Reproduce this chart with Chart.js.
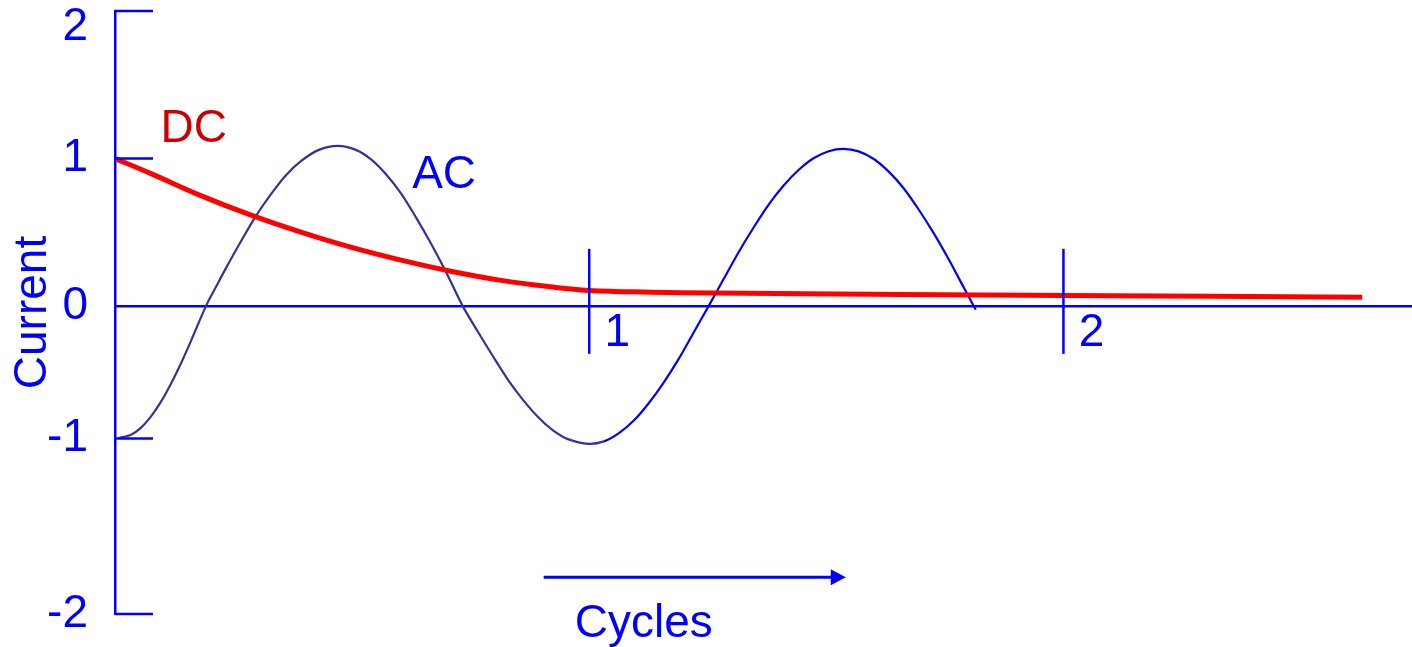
<!DOCTYPE html>
<html>
<head>
<meta charset="utf-8">
<script src="https://cdn.jsdelivr.net/npm/chart.js@4.4.1/dist/chart.umd.min.js"></script>
<style>
  body { margin: 0; background: #fff; }
  #wrap { width: 1412px; height: 647px; }
</style>
</head>
<body>
<div id="wrap"><canvas id="chart"></canvas></div>
<script>
// values (x in cycles, y in current)
var dcCycles  = [0, 0.076, 0.181, 0.287, 0.392, 0.497, 0.603, 0.708, 0.814, 0.919, 0.999,
                 1.130, 1.262, 1.657, 2.000, 2.630];
var dcCurrent = [1.00, 0.897, 0.748, 0.615, 0.500, 0.398, 0.310, 0.235, 0.173, 0.129, 0.105,
                 0.093, 0.087, 0.077, 0.070, 0.059];

var acCycles  = [0.008, 0.034, 0.055, 0.076, 0.097, 0.118, 0.139, 0.160, 0.192, 0.213, 0.234, 0.266,
                 0.297, 0.329, 0.360, 0.392, 0.430, 0.470, 0.508, 0.540, 0.571, 0.603, 0.634, 0.666,
                 0.698, 0.733, 0.765, 0.797, 0.828, 0.860, 0.892, 0.923, 0.955, 0.999, 1.031, 1.062,
                 1.094, 1.125, 1.157, 1.189, 1.220, 1.252, 1.284, 1.315, 1.347, 1.378, 1.410, 1.442,
                 1.473, 1.505, 1.536, 1.568, 1.600, 1.631, 1.663, 1.694, 1.726, 1.758, 1.789, 1.815];
var acCurrent = [-0.896, -0.874, -0.826, -0.750, -0.650, -0.528, -0.391, -0.239, 0, 0.129, 0.256, 0.440,
                 0.609, 0.758, 0.885, 0.982, 1.058, 1.085, 1.058, 0.993, 0.894, 0.763, 0.604, 0.425,
                 0.230, 0, -0.174, -0.342, -0.498, -0.636, -0.754, -0.843, -0.904, -0.936, -0.919, -0.865,
                 -0.778, -0.662, -0.520, -0.358, -0.182, 0, 0.185, 0.364, 0.533, 0.685, 0.816, 0.923,
                 1.001, 1.049, 1.065, 1.048, 0.996, 0.912, 0.798, 0.657, 0.495, 0.316, 0.129, -0.026];

// tick marks sit where the drawing puts them
var yTickValues = [2, 1, 0, -0.9, -2.09];
var yTickLabels = ['2', '1', '0', '-1', '-2'];
var xTickValues = [1, 2];
var xTickLabels = ['1', '2'];

var BLUE = '#0000ff';
var FONT = "'Liberation Sans', Arial, sans-serif";

function toPoints(xs, ys) {
    return xs.map(function (x, i) { return {x: x, y: ys[i]}; });
}

var extras = {
    id: 'extras',
    afterDraw: function (chart) {
        var ctx = chart.ctx;
        var xs = chart.scales.x, ys = chart.scales.y;
        var x0 = xs.getPixelForValue(0), y0 = ys.getPixelForValue(0);
        ctx.save();
        ctx.strokeStyle = BLUE;
        ctx.fillStyle = BLUE;
        ctx.lineWidth = 2.5;

        // short ticks to the right of the current axis
        yTickValues.forEach(function (v) {
            if (v === 0) return;
            var y = ys.getPixelForValue(v);
            ctx.beginPath();
            ctx.moveTo(x0, y);
            ctx.lineTo(x0 + 38, y);
            ctx.stroke();
        });
        // cycle ticks crossing the zero line
        xTickValues.forEach(function (v) {
            var x = xs.getPixelForValue(v);
            ctx.beginPath();
            ctx.moveTo(x, y0 - 57);
            ctx.lineTo(x, y0 + 48);
            ctx.stroke();
        });

        // arrow + "Cycles"
        var ay = ys.getPixelForValue(-1.84);
        var ax1 = xs.getPixelForValue(0.904), ax2 = xs.getPixelForValue(1.541);
        ctx.lineWidth = 3;
        ctx.beginPath();
        ctx.moveTo(ax1, ay);
        ctx.lineTo(ax2 - 14, ay);
        ctx.stroke();
        ctx.beginPath();
        ctx.moveTo(ax2 - 15, ay - 8);
        ctx.lineTo(ax2, ay);
        ctx.lineTo(ax2 - 15, ay + 8);
        ctx.closePath();
        ctx.fill();

        ctx.font = '46px ' + FONT;
        ctx.textAlign = 'center';
        ctx.textBaseline = 'alphabetic';
        ctx.fillText('Cycles', xs.getPixelForValue(1.115), ys.getPixelForValue(-2.245));

        ctx.textBaseline = 'middle';
        ctx.fillText('AC', xs.getPixelForValue(0.694), ys.getPixelForValue(0.885));
        ctx.fillStyle = '#cc0000';
        ctx.fillText('DC', xs.getPixelForValue(0.166), ys.getPixelForValue(1.20));
        ctx.restore();
    }
};

new Chart(document.getElementById('chart'), {
    type: 'line',
    data: {
        datasets: [
            {
                label: 'DC',
                data: toPoints(dcCycles, dcCurrent),
                borderColor: '#ff0000',
                borderWidth: 5,
                pointRadius: 0,
                fill: false,
                tension: 0.4
            },
            {
                label: 'AC',
                data: toPoints(acCycles, acCurrent),
                borderColor: BLUE,
                borderWidth: 2.2,
                pointRadius: 0,
                fill: false,
                tension: 0.3,
                segment: {
                    borderColor: function (c) { return c.p0.parsed.x < 1 ? '#333399' : BLUE; }
                }
            }
        ]
    },
    options: {
        responsive: true,
        maintainAspectRatio: false,
        animation: false,
        layout: { padding: { top: 11, bottom: 33, left: 0, right: 0 } },
        plugins: { legend: { display: false }, tooltip: { enabled: false } },
        scales: {
            x: {
                type: 'linear',
                min: 0,
                max: 2.735,
                position: { y: 0 },
                grid: { display: false, drawTicks: false },
                border: { display: true, color: BLUE, width: 2.5 },
                afterBuildTicks: function (scale) {
                    scale.ticks = xTickValues.map(function (v) { return {value: v}; });
                },
                ticks: {
                    color: BLUE,
                    font: { family: FONT, size: 46 },
                    padding: 0,
                    labelOffset: 28,
                    maxRotation: 0,
                    callback: function (v) { return xTickLabels[xTickValues.indexOf(v)]; }
                }
            },
            y: {
                min: -2.09,
                max: 2,
                grid: { display: false, drawTicks: false },
                border: { display: true, color: BLUE, width: 2.5 },
                afterBuildTicks: function (scale) {
                    scale.ticks = yTickValues.map(function (v) { return {value: v}; });
                },
                afterFit: function (scale) {
                    scale.width = 115;
                    scale.paddingTop = 0;
                    scale.paddingBottom = 0;
                },
                ticks: {
                    color: BLUE,
                    font: { family: FONT, size: 46, lineHeight: 0.72 },
                    padding: 27,
                    callback: function (v) {
                        var i = yTickValues.indexOf(v);
                        // top label hangs below its tick in the original
                        return i === 0 ? ['', yTickLabels[i]] : yTickLabels[i];
                    }
                },
                title: {
                    display: true,
                    text: 'Current',
                    color: BLUE,
                    font: { family: FONT, size: 46 },
                    padding: { top: 6, bottom: 0 }
                }
            }
        }
    },
    plugins: [extras]
});
</script>
</body>
</html>
